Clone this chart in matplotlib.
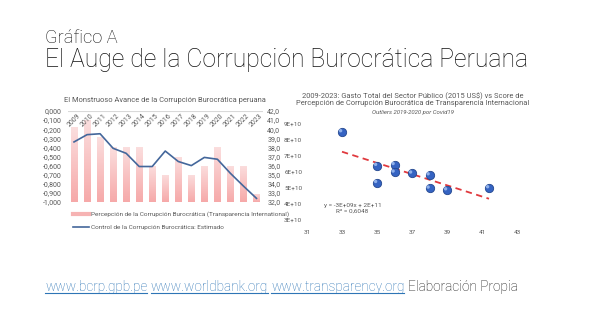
import matplotlib
matplotlib.use('Agg')
import matplotlib.pyplot as plt
import numpy as np
from matplotlib.lines import Line2D
from matplotlib.colors import LinearSegmentedColormap

plt.rcParams['font.family'] = ['Roboto', 'DejaVu Sans']

### data ###
years = [2009, 2010, 2011, 2012, 2013, 2014, 2015, 2016, 2017, 2018,
         2019, 2020, 2021, 2022, 2023]
percepcion = [-0.18, -0.10, -0.29, -0.40, -0.40, -0.40, -0.60, -0.70, -0.50,
              -0.70, -0.60, -0.40, -0.60, -0.60, -0.91]
control = [38.6, 39.4, 39.5, 37.9, 37.35, 35.9, 35.9, 37.6, 36.45, 36.0,
           36.9, 36.7, 35.15, 33.75, 32.4]

score_cpi = [33, 35, 35, 36, 36, 37, 38, 38, 39, 41.4]
gasto = [8.5e10, 6.4e10, 5.33e10, 6.45e10, 5.98e10, 5.92e10, 5.81e10,
         4.98e10, 4.87e10, 5.0e10]

links = ['www.bcrp.gpb.pe', 'www.worldbank.org', 'www.transparency.org']

W, H = 589, 331
fig = plt.figure(figsize=(W / 100, H / 100), dpi=100)
fig.patch.set_facecolor('white')
fig.canvas.draw()
r = fig.canvas.get_renderer()

def box(x0, y0, x1, y1):
    # pixel box -> figure fraction
    return [x0 / W, 1 - y1 / H, (x1 - x0) / W, (y1 - y0) / H]

def fit_width(t, width):
    # rescale a text so it spans the given pixel width
    w = t.get_window_extent(renderer=r).width
    t.set_fontsize(t.get_fontsize() * width / w)

grey = '#595959'
dark = '#111111'

# slide titles
t1 = fig.text(45 / W, 1 - 43 / H, 'Gráfico A', fontsize=12, fontweight='light',
              color=dark, va='baseline')
fit_width(t1, 72)
t2 = fig.text(45 / W, 1 - 67 / H, 'El Auge de la Corrupción Burocrática Peruana',
              fontsize=20, fontweight='light', color=dark, va='baseline')
fit_width(t2, 483)

### left chart: bars + line ###
ax = fig.add_axes(box(67.5, 111, 263, 202))
x = np.arange(len(years))
bars = ax.bar(x, np.array(percepcion) + 1.0, bottom=-1.0, width=0.5,
              color='none', edgecolor='none')
grad = np.linspace(0, 1, 100).reshape(-1, 1)
pink = LinearSegmentedColormap.from_list('pink', ['#fbdede', '#f6a9a9'])
for b in bars:
    bx0, by0 = b.get_x(), b.get_y()
    im = ax.imshow(grad, extent=[bx0, bx0 + b.get_width(), by0, by0 + b.get_height()],
                   cmap=pink, aspect='auto', origin='upper', zorder=1)
    im.set_clip_path(b)
ax.set_xlim(-0.5, len(years) - 0.5)
ax.set_ylim(-1.0, 0.0)
left_ticks = np.round(np.arange(-1.0, 0.01, 0.1), 1)
ax.set_yticks(left_ticks)
ax.set_yticklabels([('%.3f' % abs(v) if v == 0 else '%.3f' % v).replace('.', ',')
                    for v in left_ticks])
ax.axhline(0, color='#d9d9d9', lw=0.8)
ax.set_xticks([])
for s in ax.spines.values():
    s.set_visible(False)
ax.tick_params(axis='y', length=0, labelsize=5, labelcolor=grey, pad=4)
for i, yr in enumerate(years):
    ax.text(i, -0.012, str(yr), rotation=45, fontsize=5, color=grey,
            ha='center', va='top', zorder=5)
ax.text(0.5, 1.1, 'El Monstruoso Avance de la Corrupción Burocrática peruana',
        transform=ax.transAxes, ha='center', fontsize=5.4, color=grey)

ax2 = ax.twinx()
ax2.plot(x, control, color='#44679b', lw=1.2, zorder=4)
ax2.set_ylim(32, 42)
right_ticks = np.arange(32, 42.1, 1)
ax2.set_yticks(right_ticks)
ax2.set_yticklabels([('%.1f' % v).replace('.', ',') for v in right_ticks])
ax2.tick_params(axis='y', length=0, labelsize=5, labelcolor=grey, pad=3)
for s in ax2.spines.values():
    s.set_visible(False)

handles = [Line2D([0], [0], color='#f6b3b3', lw=3),
           Line2D([0], [0], color='#44679b', lw=1.2)]
labels = ['Percepción de la Corrupción Burocrática (Transparencia International)',
          'Control de la Corrupción Burocrática: Estimado']
fig.legend(handles, labels, loc='upper left', bbox_to_anchor=(70 / W, 1 - 209 / H),
           frameon=False, fontsize=4.6, labelcolor=grey, handlelength=2.6,
           handletextpad=0.3, borderaxespad=0, labelspacing=1.1)

### right chart: scatter with trendline ###
bx = fig.add_axes(box(307, 124, 517, 220))
bx.scatter(score_cpi, gasto, s=36, color='#3563c2', edgecolor='#24478f',
           linewidth=0.6, zorder=3)
bx.scatter(np.array(score_cpi) - 0.08, np.array(gasto) + 0.08e10, s=6,
           color='#8fb0ea', edgecolor='none', zorder=4)
coef = np.polyfit(score_cpi, gasto, 1)
xl = np.array([33, 41.4])
bx.plot(xl, np.polyval(coef, xl), color='#e0393e', lw=1.3, ls=(0, (3.5, 2.5)),
        zorder=2)
bx.set_xlim(31, 43)
bx.set_ylim(3e10, 9e10)
bx.set_xticks(np.arange(31, 44, 2))
bx.set_yticks(np.arange(3e10, 9.1e10, 1e10))
bx.set_yticklabels(['%dE+10' % v for v in range(3, 10)])
bx.tick_params(length=0, labelsize=4.6, labelcolor=grey)
bx.tick_params(axis='x', pad=7)
for s in bx.spines.values():
    s.set_visible(False)
bx.text(33.6, 3.75e10, 'y = -3E+09x + 2E+11\nR² = 0,6048', fontsize=4.6,
        color=grey, ha='center', va='center', linespacing=1.1)
fig.text(413 / W, 1 - 100 / H,
         '2009-2023: Gasto Total del Sector Público (2015 US$) vs Score de\n'
         'Percepción de Corrupción Burocrática de Transparencia Internacional',
         ha='center', va='center', fontsize=5.4, color=grey, linespacing=1.05)
fig.text(413 / W, 1 - 112 / H, 'Outliers 2019-2020 por Covid19', ha='center',
         va='center', fontsize=4.3, color=grey, style='italic')

### sources ###
link = '#2e75b6'
src_size = 11
full = fig.text(0, 0, ' '.join(links) + ' Elaboración Propia', fontsize=src_size,
                fontweight='light')
src_size *= 473 / full.get_window_extent(renderer=r).width
full.remove()
space = fig.text(0, 0, 'a a', fontsize=src_size, fontweight='light')
nospace = fig.text(0, 0, 'aa', fontsize=src_size, fontweight='light')
gap = (space.get_window_extent(renderer=r).width
       - nospace.get_window_extent(renderer=r).width)
space.remove()
nospace.remove()

xpos = 45
base_y = 1 - 291 / H
for word in links:
    t = fig.text(xpos / W, base_y, word, fontsize=src_size, color=link,
                 va='baseline', fontweight='light')
    wb = t.get_window_extent(renderer=r)
    fig.add_artist(Line2D([wb.x0 / W, wb.x1 / W], [base_y - 2 / H, base_y - 2 / H],
                          color=link, lw=0.8))
    xpos = wb.x1 + gap
fig.text(xpos / W, base_y, 'Elaboración Propia', fontsize=src_size, color=dark,
         va='baseline', fontweight='light')

fig.savefig('out.png', dpi=100)
